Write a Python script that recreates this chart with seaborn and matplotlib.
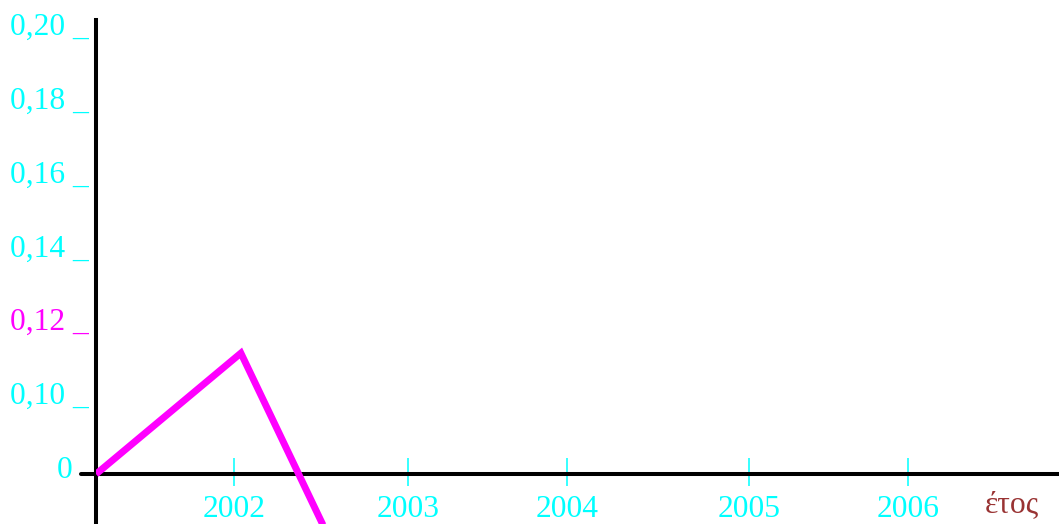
import numpy as np
import matplotlib
matplotlib.use('Agg')
import matplotlib.pyplot as plt
import matplotlib.transforms as mtransforms
import seaborn as sns

# ---- data ----
years = [2001.18, 2002.04, 2003.0]
values = [0.0, 0.1157, -0.345]
y_tick_values = [0.10, 0.12, 0.14, 0.16, 0.18, 0.20]
y_tick_labels = ["0,10 _", "0,12 _", "0,14 _", "0,16 _", "0,18 _", "0,20 _"]
x_tick_pos = [2002.0, 2003.033, 2003.976, 2005.056, 2006.0]
x_tick_labels = ["2002", "2003", "2004", "2005", "2006"]
x_label = "έτος"

CYAN = '#00ffff'
MAGENTA = '#ff00ff'
BROWN = '#993333'
FS = 22.7

sns.set_style('white')
plt.rcParams['font.family'] = ['Liberation Serif', 'DejaVu Serif']

fig = plt.figure(figsize=(10.59, 5.24), dpi=100)
ax = fig.add_axes([96/1059, 0, 963/1059, 504/524])

sns.lineplot(x=years, y=values, ax=ax, color=MAGENTA, linewidth=5, sort=False,
             zorder=5, solid_joinstyle='miter', solid_capstyle='butt')

# broken y scale: 0 sits just below 0.10
C0 = 0.0829
K = (0.1 - C0) / 0.1
def fwd(v):
    v = np.asarray(v, float)
    return np.where(v >= 0.1, v, C0 + v * K)
def inv(t):
    t = np.asarray(t, float)
    return np.where(t >= 0.1, t, (t - C0) / K)
ax.set_yscale('function', functions=(fwd, inv))

ax.set_xlim(2001.18, 2002 + 825/168.5)
ax.set_ylim(-0.0791, 0.206)

for s in ['top', 'right']:
    ax.spines[s].set_visible(False)
ax.spines['left'].set_color('black')
ax.spines['left'].set_linewidth(2.9)
ax.spines['bottom'].set_position(('data', 0))
ax.spines['bottom'].set_visible(False)
ax.axhline(0, xmin=-15/963, xmax=1, color='black', lw=2.9, clip_on=False, zorder=3)

# y ticks
ax.set_yticks(y_tick_values, y_tick_labels)
ax.yaxis.set_minor_locator(matplotlib.ticker.NullLocator())
ax.tick_params(axis='y', left=False, length=0, pad=5, labelsize=FS, labelcolor=CYAN)
for lbl in ax.get_yticklabels():
    lbl.set_va('bottom')
    if lbl.get_text().startswith('0,12'):
        lbl.set_color(MAGENTA)

tr = mtransforms.offset_copy(ax.get_yaxis_transform(), fig, y=-4, units='dots')
ax.text(-24/963, 0, "0", transform=tr, ha='right', va='baseline', color=CYAN, fontsize=FS)

# x ticks
ax.set_xticks(x_tick_pos, x_tick_labels)
ax.set_xticks(x_tick_pos, minor=True)
ax.xaxis.remove_overlapping_locs = False
ax.tick_params(axis='x', which='major', bottom=True, direction='in', length=11.5, width=1.1,
               color=CYAN, labelcolor=CYAN, labelsize=FS, pad=15)
ax.tick_params(axis='x', which='minor', bottom=True, direction='out', length=8.6, width=1.1,
               color=CYAN, labelbottom=False)

ax.set_xlabel(x_label, color=BROWN, fontsize=FS)
ax.xaxis.set_label_coords((1012-96)/963, (524-505)/504)
ax.xaxis.label.set_va('center')

ax.set_facecolor('white')
fig.savefig('out.png', dpi=100)
